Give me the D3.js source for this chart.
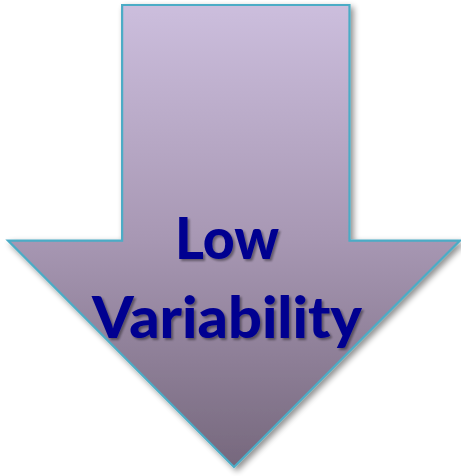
<!DOCTYPE html>
<html><head><meta charset="utf-8">
<script src="https://cdn.jsdelivr.net/npm/d3@7"></script>
<style>html,body{margin:0;padding:0;background:#fff;}svg{display:block;}</style>
</head><body>
<script>
const labels = ["Low", "Variability"];
// arrow outline in unit coordinates (x: 0..1 across head, y: 0..1 top to tip)
const arrowX = [0.2525, 0.7555, 0.7555, 1, 0.5, 0, 0.2525];
const arrowY = [0, 0, 0.51, 0.51, 1, 0.51, 0.51];

const W = 461, H = 476;
const svg = d3.select("body").append("svg").attr("width", W).attr("height", H);
const x = d3.scaleLinear().domain([0, 1]).range([8, 460]);
const y = d3.scaleLinear().domain([0, 1]).range([5, 467]);

const defs = svg.append("defs");
const g = defs.append("linearGradient").attr("id", "grad")
  .attr("x1", 0).attr("y1", 0).attr("x2", 0).attr("y2", 1);
g.append("stop").attr("offset", "0%").attr("stop-color", "#ccbedd");
g.append("stop").attr("offset", "50%").attr("stop-color", "#a898b4");
g.append("stop").attr("offset", "100%").attr("stop-color", "#76687d");

const f = defs.append("filter").attr("id", "sh").attr("x", "-10%").attr("y", "-10%").attr("width", "130%").attr("height", "130%");
f.append("feGaussianBlur").attr("in", "SourceAlpha").attr("stdDeviation", 3).attr("result", "b");
f.append("feOffset").attr("in", "b").attr("dx", 3).attr("dy", 3).attr("result", "o");
f.append("feComponentTransfer").attr("in", "o").attr("result", "o2")
  .append("feFuncA").attr("type", "linear").attr("slope", 0.45);
const m = f.append("feMerge");
m.append("feMergeNode").attr("in", "o2");
m.append("feMergeNode").attr("in", "SourceGraphic");

const tf = defs.append("filter").attr("id", "tsh").attr("x", "-10%").attr("y", "-20%").attr("width", "130%").attr("height", "150%");
tf.append("feGaussianBlur").attr("in", "SourceAlpha").attr("stdDeviation", 1.2).attr("result", "b");
tf.append("feOffset").attr("in", "b").attr("dx", 2).attr("dy", 2).attr("result", "o");
tf.append("feComponentTransfer").attr("in", "o").attr("result", "o2")
  .append("feFuncA").attr("type", "linear").attr("slope", 0.4);
const tm = tf.append("feMerge");
tm.append("feMergeNode").attr("in", "o2");
tm.append("feMergeNode").attr("in", "SourceGraphic");

const pts = arrowX.map((v, i) => [x(v), y(arrowY[i])]);
const line = d3.line();
svg.append("path").attr("d", line(pts) + "Z")
  .attr("fill", "url(#grad)").attr("stroke", "#4bacc6").attr("stroke-width", 2.2)
  .attr("stroke-linejoin", "miter").attr("filter", "url(#sh)");

const ty = d3.scalePoint().domain(labels).range([259, 338]);
const widths = {"Low": 104, "Variability": 270};
svg.selectAll("text.lbl").data(labels).enter().append("text")
  .attr("class", "lbl")
  .attr("x", 227).attr("y", d => ty(d))
  .attr("text-anchor", "middle")
  .attr("textLength", d => widths[d]).attr("lengthAdjust", "spacingAndGlyphs")
  .attr("font-family", "Lato, 'Open Sans', sans-serif").attr("font-weight", 900)
  .attr("font-size", 58).attr("fill", "#000090")
  .attr("filter", "url(#tsh)")
  .text(d => d);
</script>
</body></html>
